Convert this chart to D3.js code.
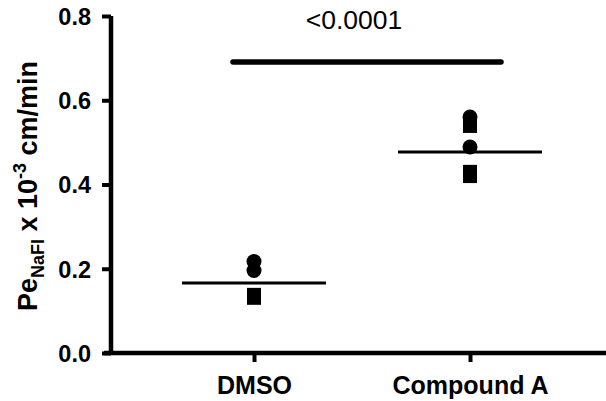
<!DOCTYPE html>
<html>
<head>
<meta charset="utf-8">
<script src="https://cdn.jsdelivr.net/npm/d3@7"></script>
<style>
  html, body { margin: 0; padding: 0; background: #fff; }
  svg { display: block; font-family: Arial, "Liberation Sans", sans-serif; }
</style>
</head>
<body>
<svg id="chart" width="606" height="401"></svg>
<script>
// ---- data ----
const categories = ["DMSO", "Compound A"];
const circleValues = [[0.217, 0.196], [0.560, 0.489]];
const squareValues = [[0.138, 0.131], [0.539, 0.430, 0.420]];
const meanValues = [0.166, 0.477];
const yTicks = [0.0, 0.2, 0.4, 0.6, 0.8];
const pLabel = "<0.0001";
const sigBarValue = 0.691;

// ---- layout ----
const svg = d3.select("#chart");
const y = d3.scaleLinear().domain([0, 0.8]).range([353, 16]);
const x = d3.scalePoint().domain(categories).range([254, 470]);

// Y axis
const yAxis = d3.axisLeft(y).tickValues(yTicks).tickFormat(d3.format(".1f")).tickSize(9).tickPadding(11);
const gy = svg.append("g").attr("transform", "translate(111,0)").call(yAxis);
gy.select(".domain").attr("d", `M0,${y(0.8)}V${y(0)}`).attr("stroke", "#000").attr("stroke-width", 4.5);
gy.selectAll(".tick line").attr("stroke", "#000").attr("stroke-width", 4);
gy.selectAll(".tick text").attr("font-size", 23.5).attr("font-weight", "bold").attr("fill", "#000")
  .attr("dy", "0.36em");

// X axis
const xAxis = d3.axisBottom(x).tickSize(9).tickSizeOuter(0);
const gx = svg.append("g").attr("transform", `translate(0,${y(0)})`).call(xAxis);
gx.select(".domain").attr("d", "M104,0H606").attr("stroke", "#000").attr("stroke-width", 4.5);
gx.selectAll(".tick line").attr("stroke", "#000").attr("stroke-width", 4);
gx.selectAll(".tick text").attr("font-size", 25).attr("font-weight", "bold").attr("fill", "#000")
  .attr("y", 41).attr("dy", 0);

// Y label
const yl = svg.append("text")
  .attr("transform", "translate(37,186) rotate(-90)")
  .attr("text-anchor", "middle")
  .attr("font-size", 27).attr("font-weight", "bold").attr("fill", "#000");
yl.append("tspan").text("Pe");
yl.append("tspan").attr("font-size", 18).attr("dy", 7).text("NaFl");
yl.append("tspan").attr("dy", -7).text(" x 10");
yl.append("tspan").attr("font-size", 18).attr("dy", -11).text("-3");
yl.append("tspan").attr("dy", 11).text(" cm/min");

// points
const R = 7.5, S = 14;
categories.forEach((c, i) => {
  svg.append("g").selectAll("rect").data(squareValues[i]).join("rect")
    .attr("x", x(c) - S / 2).attr("y", d => y(d) - S / 2)
    .attr("width", S).attr("height", S).attr("fill", "#000");
  svg.append("g").selectAll("circle").data(circleValues[i]).join("circle")
    .attr("cx", x(c)).attr("cy", d => y(d)).attr("r", R).attr("fill", "#000");
  svg.append("line")
    .attr("x1", x(c) - 72).attr("x2", x(c) + 72)
    .attr("y1", y(meanValues[i])).attr("y2", y(meanValues[i]))
    .attr("stroke", "#000").attr("stroke-width", 3);
});

// significance bar
svg.append("line")
  .attr("x1", x(categories[0]) - 21).attr("x2", x(categories[1]) + 31)
  .attr("y1", y(sigBarValue)).attr("y2", y(sigBarValue))
  .attr("stroke", "#000").attr("stroke-width", 5.5).attr("stroke-linecap", "round");
svg.append("text")
  .attr("x", 354).attr("y", 29)
  .attr("text-anchor", "middle").attr("font-size", 26.5).attr("fill", "#000")
  .text(pLabel);
</script>
</body>
</html>
